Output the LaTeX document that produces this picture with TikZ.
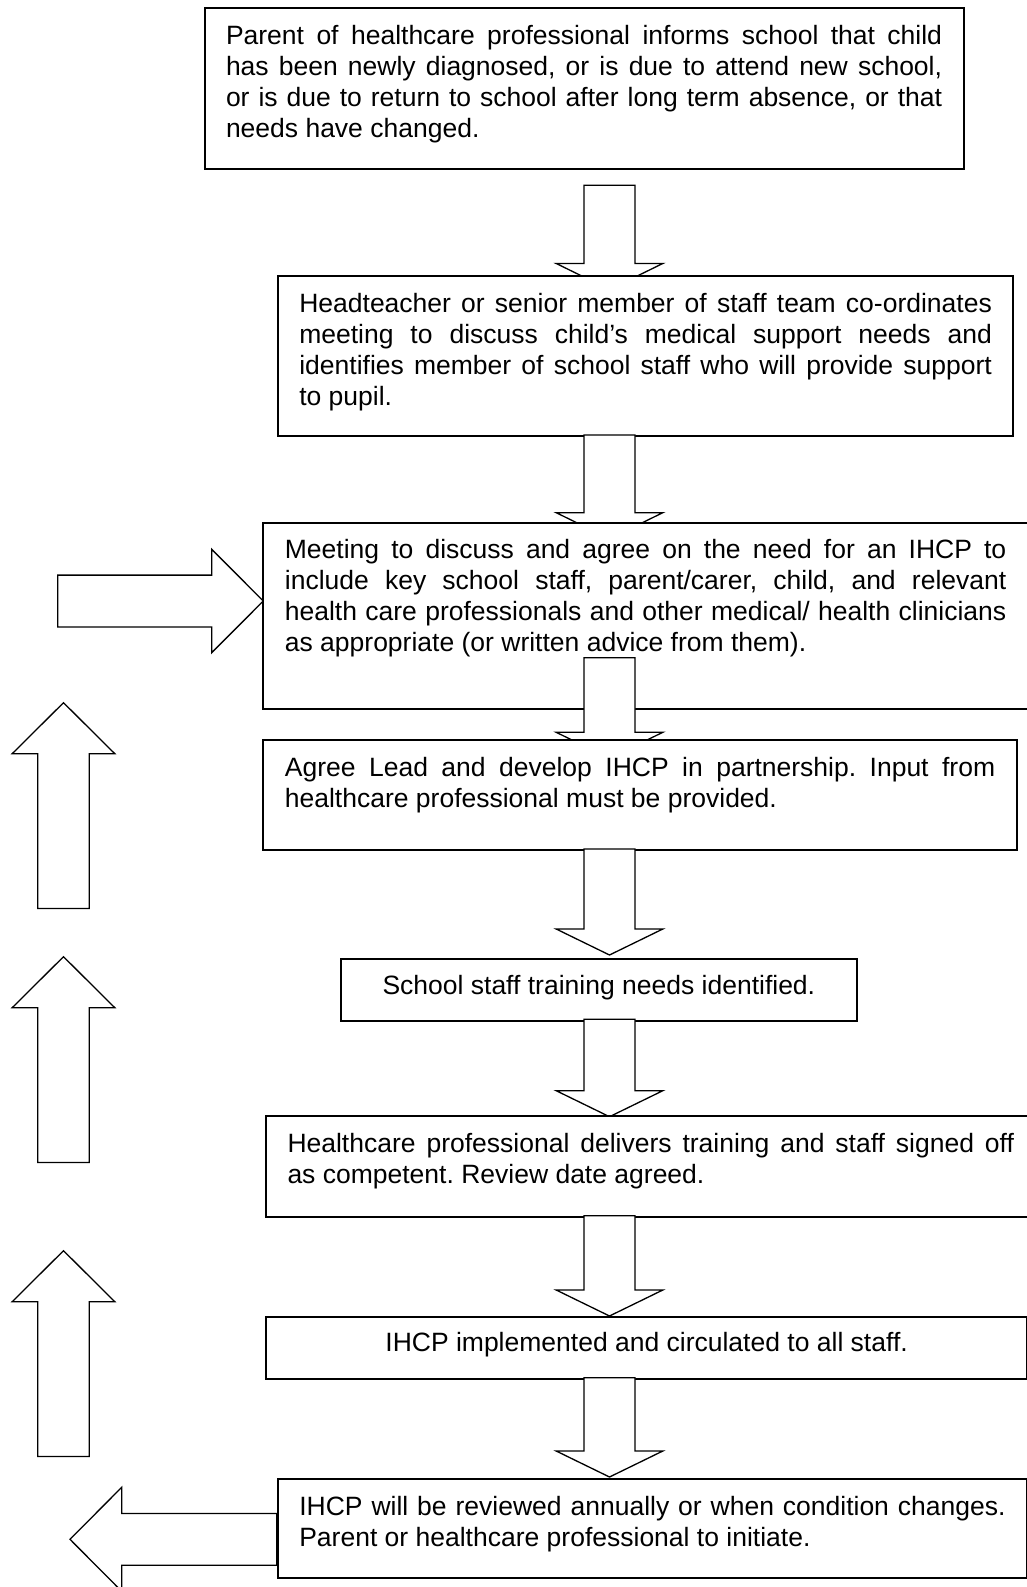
\documentclass[tikz,border=0pt]{standalone}
\usepackage{fontspec}
\setmainfont{Liberation Sans}
\usepackage{tikz}
\frenchspacing
\newcommand{\jline}[1]{\makebox[\hsize][s]{\spaceskip=0pt\relax#1}}
\newcommand{\downblock}[2]{\draw[blk] (584,#1) -- (635,#1) -- (635,#2) -- (662.8,#2) -- (609.5,#2+26) -- (556.2,#2) -- (584,#2) -- cycle;}
\tikzset{
	stage/.style={draw,line width=2pt,fill=white,anchor=north west,inner xsep=21.5pt,inner ysep=0pt,text height=36pt,align=flush left,font=\fontsize{26.5}{31}\selectfont},
	blk/.style={draw,line width=1.3pt,fill=white,line join=miter}
}
\begin{document}
\begin{tikzpicture}[x=1pt,y=-1pt]
	\path[use as bounding box,fill=white] (0,0) rectangle (1026,1587);
	\node[stage,text width=716.1pt,text depth=124.4pt] (informs) at (203.5,7.3) {\jline{Parent of healthcare professional informs school that child}\\ \jline{has been newly diagnosed, or is due to attend new school,}\\ \jline{or is due to return to school after long term absence, or that}\\ needs have changed.};
	\downblock{185.3}{263.5}
	\node[stage,text width=692.6pt,text depth=124pt] (coordinates) at (276.8,275) {\jline{Headteacher or senior member of staff team co-ordinates}\\ \jline{meeting to discuss child’s medical support needs and}\\ \jline{identifies member of school staff who will provide support}\\ to pupil.};
	\downblock{435}{512.7}
	\draw[blk] (57.7,575.1) -- (211.7,575.1) -- (211.7,549.3) -- (263.3,601) -- (211.7,652.7) -- (211.7,626.9) -- (57.7,626.9) -- cycle;
	\node[stage,text width=721.4pt,text depth=150.6pt] (meeting) at (262.4,521.7) {\jline{Meeting to discuss and agree on the need for an IHCP to}\\ \jline{include key school staff, parent/carer, child, and relevant}\\ \jline{health care professionals and other medical/ health clinicians}\\ as appropriate (or written advice from them).};
	\downblock{657.7}{732.3}
	\node[stage,text width=710.3pt,text depth=73.7pt] (develop) at (262.4,739.3) {\jline{Agree Lead and develop IHCP in partnership. Input from}\\ healthcare professional must be provided.};
	\downblock{849}{929}
	\node[stage,align=flush center,text width=473.3pt,text height=35.5pt,text depth=26.8pt] (training) at (339.7,958) {School staff training needs identified.};
	\downblock{1019.3}{1090.7}
	\node[stage,text width=726.6pt,text depth=64.7pt] (delivers) at (265,1115) {\jline{Healthcare professional delivers training and staff signed off}\\ as competent. Review date agreed.};
	\downblock{1215.7}{1290}
	\node[stage,align=flush center,text width=718.2pt,text height=35pt,text depth=27pt] (implemented) at (265,1315.7) {IHCP implemented and circulated to all staff.};
	\downblock{1377.7}{1451}
	\draw[blk] (276.7,1513.4) -- (121.7,1513.4) -- (121.7,1487.3) -- (70,1539.3) -- (121.7,1591.3) -- (121.7,1565.2) -- (276.7,1565.2) -- cycle;
	\node[stage,text width=706.3pt,text depth=62.7pt] (review) at (276.8,1478) {\jline{IHCP will be reviewed annually or when condition changes.}\\ Parent or healthcare professional to initiate.};
	\foreach \t in {702.7,956.7,1250.7}
		\draw[blk] (63.5,\t) -- (114.8,\t+51) -- (89.3,\t+51) -- (89.3,\t+205.8) -- (37.7,\t+205.8) -- (37.7,\t+51) -- (12.2,\t+51) -- cycle;
\end{tikzpicture}
\end{document}
